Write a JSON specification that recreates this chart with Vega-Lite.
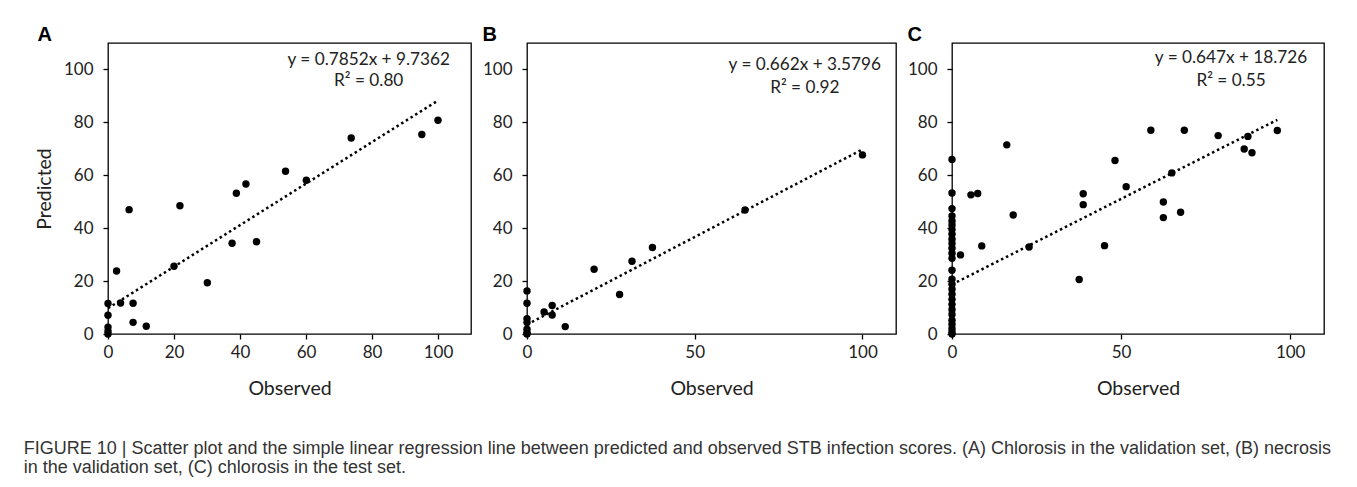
{
  "$schema": "https://vega.github.io/schema/vega-lite/v6.json",
  "padding": {"left": 23, "top": 24, "right": 5, "bottom": 5},
  "background": "white",
  "datasets": {
    "pointsA": [
      {"observed": 0, "predicted": 11.5}, {"observed": 0, "predicted": 7.1}, {"observed": 0, "predicted": 2.6},
      {"observed": 0, "predicted": 1.1}, {"observed": 0, "predicted": 0}, {"observed": 2.6, "predicted": 23.8},
      {"observed": 3.8, "predicted": 11.7}, {"observed": 7.6, "predicted": 11.6}, {"observed": 7.6, "predicted": 4.4},
      {"observed": 11.6, "predicted": 2.9}, {"observed": 6.4, "predicted": 47.0}, {"observed": 20.0, "predicted": 25.6},
      {"observed": 21.8, "predicted": 48.5}, {"observed": 30.1, "predicted": 19.4}, {"observed": 37.6, "predicted": 34.3},
      {"observed": 38.9, "predicted": 53.2}, {"observed": 41.8, "predicted": 56.7}, {"observed": 45.0, "predicted": 34.9},
      {"observed": 53.8, "predicted": 61.5}, {"observed": 60.1, "predicted": 58.1}, {"observed": 73.7, "predicted": 74.1},
      {"observed": 95.1, "predicted": 75.4}, {"observed": 100, "predicted": 80.8}
    ],
    "pointsB": [
      {"observed": 0, "predicted": 16.3}, {"observed": 0, "predicted": 11.6}, {"observed": 0, "predicted": 5.8},
      {"observed": 0, "predicted": 4.3}, {"observed": 0, "predicted": 1.8}, {"observed": 0, "predicted": 0.5},
      {"observed": 0, "predicted": 0}, {"observed": 5.1, "predicted": 8.3}, {"observed": 7.5, "predicted": 10.8},
      {"observed": 7.5, "predicted": 7.2}, {"observed": 11.4, "predicted": 2.8}, {"observed": 20.0, "predicted": 24.5},
      {"observed": 27.6, "predicted": 14.9}, {"observed": 31.3, "predicted": 27.5}, {"observed": 37.4, "predicted": 32.7},
      {"observed": 65.0, "predicted": 46.9}, {"observed": 100, "predicted": 67.7}
    ],
    "pointsC": [
      {"observed": 0, "predicted": 66.0}, {"observed": 0, "predicted": 53.3}, {"observed": 0, "predicted": 47.4},
      {"observed": 0, "predicted": 44.6}, {"observed": 0, "predicted": 42.7}, {"observed": 0, "predicted": 41.2},
      {"observed": 0, "predicted": 39.5}, {"observed": 0, "predicted": 37.7}, {"observed": 0, "predicted": 35.8},
      {"observed": 0, "predicted": 34.2}, {"observed": 0, "predicted": 32.4}, {"observed": 0, "predicted": 30.5},
      {"observed": 0, "predicted": 28.6}, {"observed": 0, "predicted": 24.1}, {"observed": 0, "predicted": 20.7},
      {"observed": 0, "predicted": 18.8}, {"observed": 0, "predicted": 16.9}, {"observed": 0, "predicted": 15.0},
      {"observed": 0, "predicted": 13.1}, {"observed": 0, "predicted": 11.2}, {"observed": 0, "predicted": 9.3},
      {"observed": 0, "predicted": 7.4}, {"observed": 0, "predicted": 5.2}, {"observed": 0, "predicted": 3.7},
      {"observed": 0, "predicted": 2.1}, {"observed": 0, "predicted": 0.8}, {"observed": 0, "predicted": 0},
      {"observed": 2.5, "predicted": 29.9}, {"observed": 5.6, "predicted": 52.6}, {"observed": 7.6, "predicted": 53.1},
      {"observed": 8.8, "predicted": 33.3}, {"observed": 16.2, "predicted": 71.5}, {"observed": 18.1, "predicted": 45.0},
      {"observed": 22.8, "predicted": 32.9}, {"observed": 37.6, "predicted": 20.6}, {"observed": 38.8, "predicted": 53.0},
      {"observed": 38.8, "predicted": 48.9}, {"observed": 45.1, "predicted": 33.4}, {"observed": 48.2, "predicted": 65.6},
      {"observed": 51.5, "predicted": 55.7}, {"observed": 58.8, "predicted": 77.0}, {"observed": 62.5, "predicted": 49.9},
      {"observed": 62.5, "predicted": 44.0}, {"observed": 65.0, "predicted": 60.9}, {"observed": 67.6, "predicted": 46.0},
      {"observed": 68.7, "predicted": 77.0}, {"observed": 78.7, "predicted": 75.0}, {"observed": 86.4, "predicted": 69.9},
      {"observed": 87.5, "predicted": 74.7}, {"observed": 88.7, "predicted": 68.5}, {"observed": 96.2, "predicted": 76.9}
    ],
    "trendA": [{"observed": 0, "predicted": 9.7362}, {"observed": 100, "predicted": 88.2562}],
    "trendB": [{"observed": 0, "predicted": 3.5796}, {"observed": 100, "predicted": 69.7796}],
    "trendC": [{"observed": 0, "predicted": 18.726}, {"observed": 96.2, "predicted": 80.967}],
    "eqA": [{"observed": 79.0, "predicted": 103.4, "label": "y = 0.7852x + 9.7362"}, {"observed": 79.0, "predicted": 95.5, "label": "R² = 0.80"}],
    "eqB": [{"observed": 82.8, "predicted": 101.5, "label": "y = 0.662x + 3.5796"}, {"observed": 82.8, "predicted": 92.9, "label": "R² = 0.92"}],
    "eqC": [{"observed": 82.5, "predicted": 104.4, "label": "y = 0.647x + 18.726"}, {"observed": 82.5, "predicted": 95.8, "label": "R² = 0.55"}]
  },
  "title": {
    "text": [
      "FIGURE 10 | Scatter plot and the simple linear regression line between predicted and observed STB infection scores. (A) Chlorosis in the validation set, (B) necrosis",
      "in the validation set, (C) chlorosis in the test set."
    ],
    "orient": "bottom",
    "anchor": "start",
    "frame": "bounds",
    "dx": -10,
    "offset": 42,
    "font": "Liberation Sans",
    "fontSize": 18,
    "fontWeight": "normal",
    "color": "#333333",
    "lineHeight": 19
  },
  "hconcat": [
    {
      "width": 363, "height": 291,
      "title": {"text": "A", "dx": 3},
      "layer": [
        {
          "data": {"name": "trendA"},
          "mark": {"type": "line", "color": "black", "strokeWidth": 2.5, "strokeDash": [2.5, 3]},
          "encoding": {
            "x": {"field": "observed", "type": "quantitative", "scale": {"domain": [0, 110], "nice": false}, "axis": {"values": [0, 20, 40, 60, 80, 100]}, "title": "Observed"},
            "y": {"field": "predicted", "type": "quantitative", "scale": {"domain": [0, 110], "nice": false}, "axis": {"values": [0, 20, 40, 60, 80, 100]}, "title": "Predicted"}
          }
        },
        {
          "data": {"name": "pointsA"},
          "mark": {"type": "circle", "color": "black", "opacity": 1, "size": 55},
          "encoding": {
            "x": {"field": "observed", "type": "quantitative"},
            "y": {"field": "predicted", "type": "quantitative"}
          }
        },
        {
          "data": {"name": "eqA"},
          "mark": {"type": "text", "font": "Lato", "fontSize": 17.2, "color": "#222222", "align": "center", "baseline": "middle"},
          "encoding": {
            "x": {"field": "observed", "type": "quantitative"},
            "y": {"field": "predicted", "type": "quantitative"},
            "text": {"field": "label"}
          }
        }
      ]
    },
    {
      "width": 369, "height": 291,
      "title": {"text": "B"},
      "layer": [
        {
          "data": {"name": "trendB"},
          "mark": {"type": "line", "color": "black", "strokeWidth": 2.5, "strokeDash": [2.5, 3]},
          "encoding": {
            "x": {"field": "observed", "type": "quantitative", "scale": {"domain": [0, 110], "nice": false}, "axis": {"values": [0, 50, 100]}, "title": "Observed"},
            "y": {"field": "predicted", "type": "quantitative", "scale": {"domain": [0, 110], "nice": false}, "axis": {"values": [0, 20, 40, 60, 80, 100]}, "title": null}
          }
        },
        {
          "data": {"name": "pointsB"},
          "mark": {"type": "circle", "color": "black", "opacity": 1, "size": 55},
          "encoding": {
            "x": {"field": "observed", "type": "quantitative"},
            "y": {"field": "predicted", "type": "quantitative"}
          }
        },
        {
          "data": {"name": "eqB"},
          "mark": {"type": "text", "font": "Lato", "fontSize": 17.2, "color": "#222222", "align": "center", "baseline": "middle"},
          "encoding": {
            "x": {"field": "observed", "type": "quantitative"},
            "y": {"field": "predicted", "type": "quantitative"},
            "text": {"field": "label"}
          }
        }
      ]
    },
    {
      "width": 372, "height": 291,
      "title": {"text": "C"},
      "layer": [
        {
          "data": {"name": "trendC"},
          "mark": {"type": "line", "color": "black", "strokeWidth": 2.5, "strokeDash": [2.5, 3]},
          "encoding": {
            "x": {"field": "observed", "type": "quantitative", "scale": {"domain": [0, 110], "nice": false}, "axis": {"values": [0, 50, 100]}, "title": "Observed"},
            "y": {"field": "predicted", "type": "quantitative", "scale": {"domain": [0, 110], "nice": false}, "axis": {"values": [0, 20, 40, 60, 80, 100]}, "title": null}
          }
        },
        {
          "data": {"name": "pointsC"},
          "mark": {"type": "circle", "color": "black", "opacity": 1, "size": 55},
          "encoding": {
            "x": {"field": "observed", "type": "quantitative"},
            "y": {"field": "predicted", "type": "quantitative"}
          }
        },
        {
          "data": {"name": "eqC"},
          "mark": {"type": "text", "font": "Lato", "fontSize": 17.2, "color": "#222222", "align": "center", "baseline": "middle"},
          "encoding": {
            "x": {"field": "observed", "type": "quantitative"},
            "y": {"field": "predicted", "type": "quantitative"},
            "text": {"field": "label"}
          }
        }
      ]
    }
  ],
  "spacing": 56,
  "bounds": "flush",
  "config": {
    "view": {"stroke": "black", "strokeWidth": 1.3},
    "axis": {
      "domain": false, "grid": false, "ticks": true, "tickColor": "black", "tickSize": 5, "tickWidth": 1.3,
      "labelFont": "Lato", "labelFontSize": 17, "labelColor": "#222222", "labelFlush": false,
      "titleFont": "Lato", "titleFontSize": 19.5, "titleFontWeight": "normal", "titleColor": "#222222"
    },
    "axisX": {"labelPadding": 5, "titlePadding": 19},
    "axisY": {"labelPadding": 10, "titlePadding": 9},
    "title": {"font": "Liberation Sans", "fontSize": 20, "fontWeight": "bold", "color": "black", "anchor": "start", "frame": "bounds", "baseline": "alphabetic", "offset": -2}
  }
}
